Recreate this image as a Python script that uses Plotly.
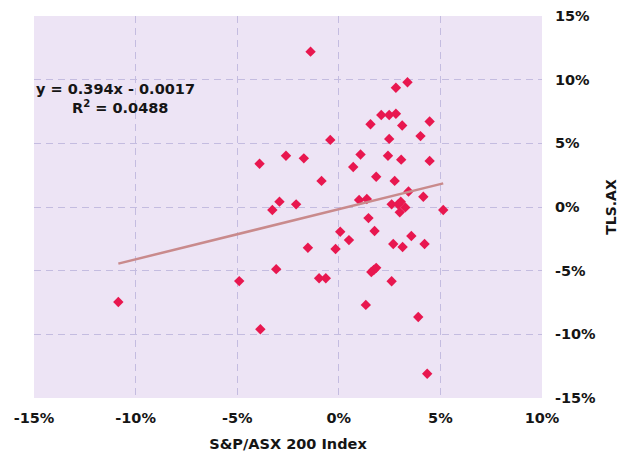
import plotly.graph_objects as go

# S&P/ASX 200 Index monthly returns (%) vs TLS.AX monthly returns (%)
asx200_returns = [
    -1.39, 2.81, 3.38, 2.09, 2.48, 2.81, 1.56, 3.12, 4.47, -0.42,
    2.48, 4.02, -2.60, -1.72, -3.90, 1.07, 2.42, 3.07, 4.47, 0.71,
    1.84, 2.75, -0.85, 3.43, 4.16, 1.00, 1.38, -2.92, -3.27, -2.10,
    2.60, 2.92, 3.05, 3.27, 3.00, 5.14, 1.46, 1.76, 0.07, 0.50,
    3.57, 2.68, 3.14, 4.22, -1.52, -0.16, -3.08, -4.90, -0.97, -0.64,
    1.60, 1.72, 1.84, 2.60, 1.33, 3.91, 4.35, -10.85, -3.86,
]
tls_returns = [
    12.20, 9.37, 9.80, 7.22, 7.22, 7.32, 6.50, 6.40, 6.72, 5.27,
    5.35, 5.57, 4.02, 3.82, 3.40, 4.12, 4.02, 3.72, 3.62, 3.14,
    2.38, 2.05, 2.05, 1.22, 0.81, 0.55, 0.63, 0.42, -0.24, 0.21,
    0.21, 0.21, 0.42, -0.03, -0.42, -0.24, -0.87, -1.88, -1.94, -2.60,
    -2.28, -2.91, -3.14, -2.91, -3.20, -3.30, -4.88, -5.82, -5.60, -5.60,
    -5.10, -4.95, -4.78, -5.83, -7.69, -8.64, -13.10, -7.46, -9.60,
]

trend_slope = 0.394
trend_intercept = -0.0017
r_squared = 0.0488

x_tick_values = [-15, -10, -5, 0, 5, 10]
x_tick_labels = ["-15%", "-10%", "-5%", "0%", "5%", "10%"]
y_tick_values = [-15, -10, -5, 0, 5, 10, 15]
y_tick_labels = ["-15%", "-10%", "-5%", "0%", "5%", "10%", "15%"]

x_title = "S&P/ASX 200 Index"
y_title = "TLS.AX"

x_lo, x_hi = min(asx200_returns), max(asx200_returns)
trend_x = [x_lo, x_hi]
trend_y = [trend_slope * v + trend_intercept * 100 for v in trend_x]

FONT = "DejaVu Sans"
TXT = "#151515"
grid_col = "rgba(196,188,224,1)"

fig = go.Figure()
fig.add_trace(go.Scatter(
    x=asx200_returns, y=tls_returns, mode="markers",
    marker=dict(symbol="diamond", size=8, color="#E8174F"),
    showlegend=False,
))
fig.add_trace(go.Scatter(
    x=trend_x, y=trend_y, mode="lines",
    line=dict(color="#C98A8C", width=2.5),
    showlegend=False,
))

fig.add_annotation(
    xref="paper", yref="paper", x=0.0, y=0.810, xanchor="left", yanchor="middle",
    text=f"<b>y = {trend_slope}x - {abs(trend_intercept):.4f}</b>",
    showarrow=False, font=dict(family=FONT, size=14.5, color=TXT),
)
fig.add_annotation(
    xref="paper", yref="paper", x=0.07, y=0.7615, xanchor="left", yanchor="middle",
    text=f"<b>R<sup>2</sup> = {r_squared}</b>",
    showarrow=False, font=dict(family=FONT, size=14.5, color=TXT),
)

fig.update_layout(
    width=619, height=452,
    margin=dict(l=34, r=77, t=16, b=54),
    paper_bgcolor="white",
    plot_bgcolor="#EDE4F5",
    font=dict(family=FONT, size=14, color=TXT),
    xaxis=dict(
        range=[-15, 10], tickvals=x_tick_values, ticktext=x_tick_labels,
        showgrid=True, gridcolor=grid_col, griddash="7px,5px", gridwidth=1,
        zeroline=False, showline=False, automargin=False,
        ticks="outside", ticklen=7, tickcolor="rgba(0,0,0,0)",
        tickfont=dict(family=FONT, size=14.5, color=TXT, weight="bold"),
        title=dict(text=f"<b>{x_title}</b>", standoff=14,
                   font=dict(family=FONT, size=14.5, color=TXT)),
    ),
    yaxis=dict(
        range=[-15, 15], tickvals=y_tick_values, ticktext=y_tick_labels,
        side="right",
        showgrid=True, gridcolor=grid_col, griddash="7px,5px", gridwidth=1,
        zeroline=False, showline=False, automargin=False,
        ticks="outside", ticklen=9, tickcolor="rgba(0,0,0,0)",
        tickfont=dict(family=FONT, size=14.5, color=TXT, weight="bold"),
        title=dict(text=f"<b>{y_title}</b>", standoff=14,
                   font=dict(family=FONT, size=14, color=TXT)),
    ),
)

fig.write_html("out.html", config={"displayModeBar": False},
               post_script="document.body.style.margin='0px';")
